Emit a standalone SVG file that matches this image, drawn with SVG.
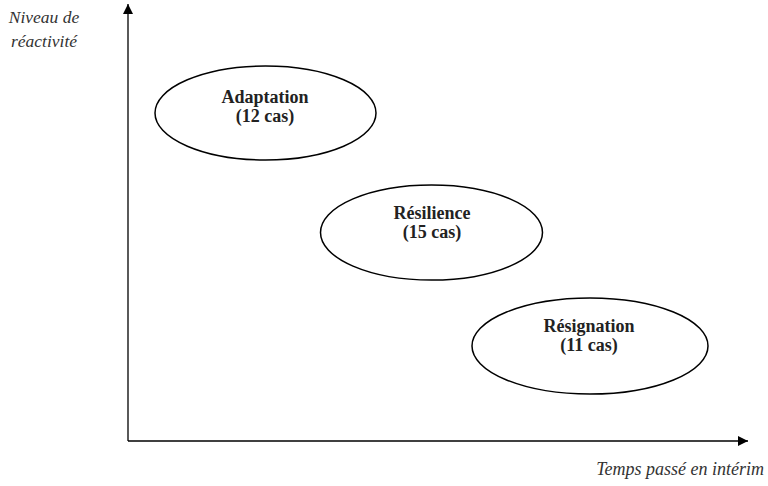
<svg xmlns="http://www.w3.org/2000/svg" width="768" height="486" viewBox="0 0 768 486">
<defs>
<marker id="ah" viewBox="0 0 10 10" refX="10" refY="5" markerWidth="10" markerHeight="10" markerUnits="userSpaceOnUse" orient="auto">
<path d="M0,0 L10,5 L0,10 z" fill="#000"/>
</marker>
</defs>
<style>
.n{fill:#fff;stroke:#000;stroke-width:1.5}
.t{font-family:"Liberation Serif",serif;font-weight:bold;font-size:18px;text-anchor:middle;fill:#222}
.a{font-family:"Liberation Serif",serif;font-style:italic;font-size:17.5px;fill:#333}
.ax{stroke:#000;stroke-width:1.3;fill:none}
</style>
<rect width="768" height="486" fill="#fff"/>
<g id="connectors">
<line class="ax" x1="128" y1="441" x2="128" y2="4" marker-end="url(#ah)"/>
<line class="ax" x1="128" y1="441" x2="748" y2="441" marker-end="url(#ah)"/>
</g>
<g id="ylabel">
<text class="a" x="44" y="22.5" text-anchor="middle">Niveau de</text>
<text class="a" x="44" y="46.5" text-anchor="middle">réactivité</text>
</g>
<g id="xlabel">
<text class="a" x="764" y="475" text-anchor="end" style="font-size:18px">Temps passé en intérim</text>
</g>
<g id="adaptation">
<ellipse class="n" cx="265.5" cy="113" rx="110.5" ry="47"/>
<text class="t" x="265" y="102.5">Adaptation</text>
<text class="t" x="265" y="121.5">(12 cas)</text>
</g>
<g id="resilience">
<ellipse class="n" cx="431.5" cy="232.5" rx="111" ry="47.5"/>
<text class="t" x="432" y="219">Résilience</text>
<text class="t" x="432" y="238">(15 cas)</text>
</g>
<g id="resignation">
<ellipse class="n" cx="590" cy="346" rx="118" ry="48"/>
<text class="t" x="589" y="332">Résignation</text>
<text class="t" x="589" y="350.5">(11 cas)</text>
</g>
</svg>
